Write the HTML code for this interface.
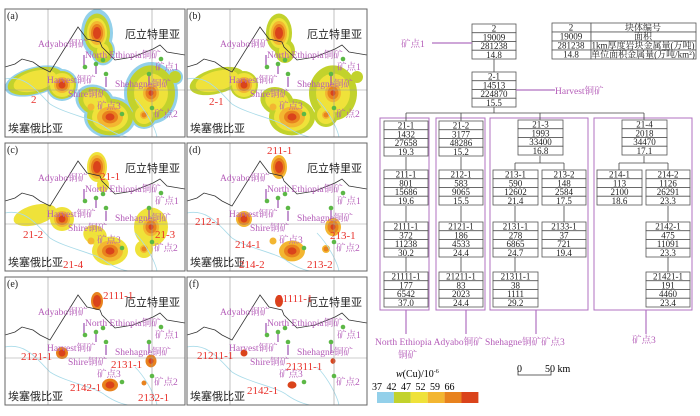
<!DOCTYPE html>
<html><head><meta charset="utf-8"><style>
html,body{margin:0;padding:0;background:#fff;}
svg{display:block;}
.lb{font-family:"Liberation Serif","Noto Serif CJK SC",serif;fill:#b45cb8;font-size:9.5px;}
.cn{font-family:"Liberation Sans","Noto Sans CJK SC",sans-serif;fill:#222;font-size:11px;}
.rd{font-family:"Liberation Serif",serif;fill:#e8302a;font-size:11px;}
.tb{font-family:"Liberation Serif","Noto Serif CJK SC",serif;fill:#222;font-size:9px;}
</style></head><body>
<svg id="s" width="700" height="416" viewBox="0 0 700 416" xmlns="http://www.w3.org/2000/svg"></svg>
<script>
var o='';
var C=['#93d0ea','#c2d22c','#efe23a','#f3b631','#e8821e','#da431b'];
var B=[
[30,72,0.45,-15,[31,28,22,0,0,0]],
[98,42,1.2,0,[12,10,6,0,0,0]],
[92,24,1.5,0,[16,13,10,8,6,4]],
[57,76,1,0,[16,14,12,8,6,3.5]],
[90,92,0.8,20,[20,17,12,0,0,0]],
[105,108,0.8,0,[26,23,18,13,8,4.5]],
[146,84,1.15,0,[27,24,17,8,5.5,2.5]],
[170,68,1,0,[8,6,0,0,0,0]],
[139,106,1,0,[14,12,9,4,2.5,0]],
[86,98,1,0,[0,0,0,3.5,0,0]]
];
var P=[[5,9,0,'(a)'],[187,9,1,'(b)'],[5,143,2,'(c)'],[187,143,3,'(d)'],[5,277,4,'(e)'],[187,277,5,'(f)']];
var RL=[
[['2',26,94]],[['2-1',22,96]],
[['21-1',95,37],['21-2',18,95],['21-3',150,95],['21-4',58,125]],
[['211-1',80,11],['212-1',8,82],['213-1',143,96],['214-1',48,105],['214-2',52,125],['213-2',120,125]],
[['2111-1',98,22],['2121-1',16,83],['2131-1',106,91],['2142-1',65,114],['2132-1',133,124]],
[['21111-1',90,25],['21211-1',10,82],['21311-1',99,93],['2142-1',60,117]]
];
P.forEach(function(p,i){
 var s=p[2];
 o+='<g transform="translate('+p[0]+','+p[1]+')">';
 o+='<defs><clipPath id="c'+i+'"><rect x="0" y="0" width="180" height="128"/></clipPath></defs><g clip-path="url(#c'+i+')">';
 for(var l=s;l<6;l++){B.forEach(function(b){var r=b[4][l];if(r>0)o+='<ellipse cx="'+b[0]+'" cy="'+b[1]+'" rx="'+r+'" ry="'+(r*b[2])+'" transform="rotate('+b[3]+' '+b[0]+' '+b[1]+')" fill="'+C[l]+'"/>';});}
 o+='<path d="M0,70 C20,66 30,80 45,95 C60,105 90,110 100,118 C110,125 120,128 125,128 M130,90 C140,100 150,118 152,128" fill="none" stroke="#a9dbe9" stroke-width="0.8"/>';
 o+='<line x1="43" y1="0" x2="43" y2="128" stroke="#999" stroke-width="0.6"/><line x1="147" y1="0" x2="147" y2="128" stroke="#999" stroke-width="0.6"/><line x1="0" y1="81" x2="180" y2="81" stroke="#999" stroke-width="0.6"/>';
 o+='<polyline points="0,58 10,55 17,50 28,53 35,58 45,63 73,18 82,30 95,33 97,38 110,51 128,48 148,40 155,36 162,43 180,46" fill="none" stroke="#333" stroke-width="0.8"/>';
 o+='<g stroke="#9b4fb0" stroke-width="1.2"><line x1="79" y1="46" x2="79" y2="58"/><line x1="91" y1="56" x2="91" y2="65"/><line x1="101" y1="68" x2="101" y2="78"/><line x1="144" y1="65" x2="144" y2="76"/></g>';
 [[80,58],[91,55],[98,51],[101,65],[144,65],[156,50],[147,99],[117,105]].forEach(function(d){o+='<circle cx="'+d[0]+'" cy="'+d[1]+'" r="2.3" fill="#5cb846"/>';});
 o+='<text class="lb" x="33" y="38">Adyabo铜矿</text><text class="lb" x="80" y="49">North Ethiopia铜矿</text><text class="lb" x="150" y="61">矿点1</text><text class="lb" x="42" y="74">Harvest铜矿</text><text class="lb" x="110" y="78">Shehagne铜矿</text><text class="lb" x="63" y="88">Shire铜矿</text><text class="lb" x="92" y="100">矿点3</text><text class="lb" x="149" y="108">矿点2</text>';
 o+='<text class="cn" x="120" y="29">厄立特里亚</text><text class="cn" x="3" y="123">埃塞俄比亚</text>';
 RL[i].forEach(function(t){o+='<text class="rd" x="'+t[1]+'" y="'+t[2]+'">'+t[0]+'</text>';});
 o+='<text x="2" y="10" font-family="Liberation Serif,serif" font-size="10" fill="#222">'+p[3]+'</text>';
 o+='</g><rect x="0" y="0" width="180" height="128" fill="none" stroke="#666" stroke-width="1"/></g>';
});
function box(x1,x2,y,v){var w=x2-x1,h=8.75;for(var k=0;k<4;k++){o+='<rect x="'+x1+'" y="'+(y+k*h)+'" width="'+w+'" height="'+h+'" fill="#fff" stroke="#555" stroke-width="0.8"/><text class="tb" x="'+((x1+x2)/2)+'" y="'+(y+k*h+7.5)+'" text-anchor="middle">'+v[k]+'</text>';}}
function ln(a,b,c,d,col,w){o+='<line x1="'+a+'" y1="'+b+'" x2="'+c+'" y2="'+d+'" stroke="'+(col||'#444')+'" stroke-width="'+(w||0.8)+'"/>';}
var pu='#b070c0';
[[380,429],[436,485],[490,588],[594,692]].forEach(function(g){o+='<rect x="'+g[0]+'" y="118" width="'+(g[1]-g[0])+'" height="192" fill="none" stroke="'+pu+'" stroke-width="1"/>';});
ln(494,59,494,72);ln(406,113,644,113);
[406,461,540,644].forEach(function(x){ln(x,113,x,121);});
ln(494,107,494,113);
ln(406,157,406,170);ln(461,157,461,170);ln(540,156,540,163);ln(515,163,564,163);ln(515,163,515,170);ln(564,163,564,170);
ln(644,156,644,163);ln(619,163,668,163);ln(619,163,619,170);ln(668,163,668,170);
ln(406,206,406,222);ln(461,206,461,222);ln(515,206,515,222);ln(564,206,564,222);ln(668,206,668,222);
ln(406,257,406,272);ln(461,257,461,272);ln(515,257,515,272);ln(668,257,668,272);
box(472,516,24,['2','19009','281238','14.8']);
box(472,516,72,['2-1','14513','224870','15.5']);
box(384,428,121,['21-1','1432','27658','19.3']);box(439,483,121,['21-2','3177','48286','15.2']);
box(518,563,120,['21-3','1993','33400','16.8']);box(622,667,120,['21-4','2018','34470','17.1']);
box(384,428,170,['211-1','801','15686','19.6']);box(439,483,170,['212-1','583','9065','15.5']);
box(493,538,170,['213-1','590','12602','21.4']);box(542,586,170,['213-2','148','2584','17.5']);
box(597,642,170,['214-1','113','2100','18.6']);box(646,690,170,['214-2','1126','26291','23.3']);
box(384,428,222,['2111-1','372','11238','30.2']);box(439,483,222,['2121-1','186','4533','24.4']);
box(493,538,222,['2131-1','278','6865','24.7']);box(542,586,222,['2133-1','37','721','19.4']);
box(646,690,222,['2142-1','475','11091','23.3']);
box(384,428,272,['21111-1','177','6542','37.0']);box(439,483,272,['21211-1','83','2023','24.4']);
box(493,538,272,['21311-1','38','1111','29.2']);box(646,690,272,['21421-1','191','4460','23.4']);
var lv=['2','19009','281238','14.8'],rv=['块体编号','面积','1km厚度岩块金属量(万吨)','单位面积金属量(万吨/km²)'];
for(var k=0;k<4;k++){var y=23+k*9;o+='<rect x="552" y="'+y+'" width="39" height="9" fill="#fff" stroke="#555" stroke-width="0.8"/><rect x="591" y="'+y+'" width="105" height="9" fill="#fff" stroke="#555" stroke-width="0.8"/><text class="tb" x="571" y="'+(y+7.5)+'" text-anchor="middle">'+lv[k]+'</text><text class="tb" x="643" y="'+(y+7.5)+'" text-anchor="middle" font-size="8">'+rv[k]+'</text>';}
ln(432,43,472,43,pu,1.2);o+='<text class="lb" x="401" y="47" font-size="11">矿点1</text>';
ln(516,90,555,90,pu,1.2);o+='<text class="lb" x="555" y="94" font-size="11">Harvest铜矿</text>';
[406,466,536,646].forEach(function(x){ln(x,310,x,334,pu,1.2);});
o+='<text class="lb" x="375" y="345" font-size="10.5">North Ethiopia Adyabo铜矿 Shehagne铜矿矿点3</text><text class="lb" x="398" y="358" font-size="10.5">铜矿</text><text class="lb" x="632" y="343" font-size="10.5">矿点3</text>';
o+='<text x="517" y="372" font-family="Liberation Serif,serif" font-size="10">0</text><text x="545" y="372" font-family="Liberation Serif,serif" font-size="10">50 km</text>';
o+='<path d="M518,371 L518,375 L551,375 L551,371" fill="none" stroke="#333" stroke-width="0.8"/>';
o+='<text x="396" y="377" font-family="Liberation Serif,serif" font-size="10"><tspan font-style="italic">w</tspan>(Cu)/10<tspan font-size="6" dy="-4">-6</tspan></text>';
o+='<text x="372" y="390" font-family="Liberation Serif,serif" font-size="10" word-spacing="2">37  42 47  52 59  66</text>';
C.forEach(function(c,k){o+='<rect x="'+(377+k*16.9)+'" y="392" width="16.9" height="11" fill="'+c+'"/>';});
document.getElementById('s').innerHTML=o;
</script>
</body></html>
